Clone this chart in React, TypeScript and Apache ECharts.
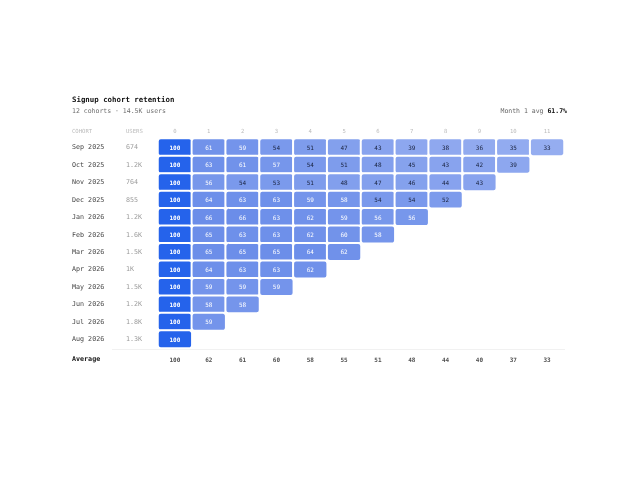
import React, { useEffect, useRef } from 'react';
import * as echarts from 'echarts';

const months = ['0', '1', '2', '3', '4', '5', '6', '7', '8', '9', '10', '11'];
const cohorts = [
  'Sep 2025', 'Oct 2025', 'Nov 2025', 'Dec 2025', 'Jan 2026', 'Feb 2026',
  'Mar 2026', 'Apr 2026', 'May 2026', 'Jun 2026', 'Jul 2026', 'Aug 2026',
];
const users = ['674', '1.2K', '764', '855', '1.2K', '1.6K', '1.5K', '1K', '1.5K', '1.2K', '1.8K', '1.3K'];
const retention: number[][] = [
  [100, 61, 59, 54, 51, 47, 43, 39, 38, 36, 35, 33],
  [100, 63, 61, 57, 54, 51, 48, 45, 43, 42, 39],
  [100, 56, 54, 53, 51, 48, 47, 46, 44, 43],
  [100, 64, 63, 63, 59, 58, 54, 54, 52],
  [100, 66, 66, 63, 62, 59, 56, 56],
  [100, 65, 63, 63, 62, 60, 58],
  [100, 65, 65, 65, 64, 62],
  [100, 64, 63, 63, 62],
  [100, 59, 59, 59],
  [100, 58, 58],
  [100, 59],
  [100],
];
const averages = [100, 62, 61, 60, 58, 55, 51, 48, 44, 40, 37, 33];
const month1Avg = '61.7%';
const subtitle = '12 cohorts · 14.5K users';

const FONT = '"DejaVu Sans Mono", "Liberation Mono", monospace';

export default function App() {
  const ref = useRef<HTMLDivElement>(null);

  useEffect(() => {
    if (!ref.current) return;
    const chart = echarts.init(ref.current, undefined, { renderer: 'svg' });

    const cells = retention.flatMap((row, r) => row.map((v, c) => [c, r, v]));
    const avgCells = averages.map((v, c) => [c, 0, v]);

    const gridLeft = 158;
    const gridRight = 76;
    const labelMargin = gridLeft - 72;

    chart.setOption({
      animation: false,
      textStyle: { fontFamily: FONT },
      grid: [
        { left: gridLeft, right: gridRight, top: 138.5, height: 209.5 },
        { left: gridLeft, right: gridRight, top: 350, height: 18 },
      ],
      xAxis: [
        {
          type: 'category',
          data: months,
          position: 'top',
          gridIndex: 0,
          axisLine: { show: false },
          axisTick: { show: false },
          splitLine: { show: false },
          axisLabel: { color: '#bbbbbb', fontSize: 5.6, margin: 5, fontFamily: FONT },
        },
        {
          type: 'category',
          data: months,
          gridIndex: 1,
          show: false,
        },
      ],
      yAxis: [
        {
          type: 'category',
          data: cohorts,
          inverse: true,
          gridIndex: 0,
          axisLine: { show: false },
          axisTick: { show: false },
          splitLine: { show: false },
          axisLabel: {
            margin: labelMargin,
            align: 'left',
            formatter: (val: string, idx: number) => `{a|${val}}{b|${users[idx]}}`,
            rich: {
              a: { width: 54, color: '#444', fontSize: 6.7, fontFamily: FONT },
              b: { width: 32, color: '#9a9a9a', fontSize: 6.7, fontFamily: FONT },
            },
          },
        },
        {
          type: 'category',
          data: ['Average'],
          gridIndex: 1,
          axisLine: { show: false },
          axisTick: { show: false },
          splitLine: { show: false },
          axisLabel: {
            margin: labelMargin,
            align: 'left',
            formatter: (val: string) => `{a|${val}}`,
            rich: {
              a: { width: 86, color: '#111', fontSize: 6.7, fontWeight: 'bold', fontFamily: FONT },
            },
          },
        },
      ],
      visualMap: {
        show: false,
        type: 'continuous',
        min: 33,
        max: 100,
        dimension: 2,
        seriesIndex: 0,
        inRange: { color: ['#95adf0', '#6a8de9', '#2563eb'] },
      },
      series: [
        {
          type: 'heatmap',
          xAxisIndex: 0,
          yAxisIndex: 0,
          data: cells,
          itemStyle: { borderColor: '#fff', borderWidth: 2, borderRadius: 3 },
          emphasis: { disabled: true },
          label: {
            show: true,
            fontFamily: FONT,
            formatter: (p: any) => {
              const v = p.value[2];
              if (v >= 100) return `{b|${v}}`;
              return v >= 55 ? `{w|${v}}` : `{d|${v}}`;
            },
            rich: {
              b: { color: '#fff', fontSize: 6, fontWeight: 'bold', fontFamily: FONT },
              w: { color: '#fff', fontSize: 6, fontFamily: FONT },
              d: { color: '#18213d', fontSize: 6, fontFamily: FONT },
            },
          },
        },
        {
          type: 'scatter',
          xAxisIndex: 1,
          yAxisIndex: 1,
          data: avgCells,
          symbolSize: 1,
          itemStyle: { color: 'rgba(255,255,255,0)' },
          emphasis: { disabled: true },
          label: {
            show: true,
            position: 'inside',
            formatter: (p: any) => String(p.value[2]),
            color: '#222',
            fontSize: 6,
            fontWeight: 'bold',
            fontFamily: FONT,
          },
        },
      ],
      graphic: [
        {
          type: 'text',
          left: 72,
          top: 95.5,
          style: { text: 'Signup cohort retention', fill: '#111', fontSize: 7.4, fontWeight: 'bold', fontFamily: FONT },
        },
        {
          type: 'text',
          left: 72,
          top: 107.5,
          style: { text: subtitle, fill: '#6f6f6f', fontSize: 6.5, fontFamily: FONT },
        },
        {
          type: 'text',
          x: 567,
          y: 111,
          style: {
            text: `{a|Month 1 avg }{b|${month1Avg}}`,
            align: 'right',
            verticalAlign: 'middle',
            rich: {
              a: { fill: '#666', fontSize: 6.5, fontFamily: FONT },
              b: { fill: '#111', fontSize: 6.5, fontWeight: 'bold', fontFamily: FONT },
            },
          },
        },
        {
          type: 'text',
          x: 72,
          y: 131,
          style: { text: 'COHORT', fill: '#bbbbbb', fontSize: 5.6, verticalAlign: 'middle', fontFamily: FONT },
        },
        {
          type: 'text',
          x: 126,
          y: 131,
          style: { text: 'USERS', fill: '#bbbbbb', fontSize: 5.6, verticalAlign: 'middle', fontFamily: FONT },
        },
        {
          type: 'line',
          shape: { x1: 112, y1: 349.5, x2: 565, y2: 349.5 },
          style: { stroke: '#f1f1f1', lineWidth: 1 },
        },
      ],
    });

    return () => chart.dispose();
  }, []);

  return <div ref={ref} style={{ position: 'fixed', left: 0, top: 0, width: 640, height: 480 }} />;
}
